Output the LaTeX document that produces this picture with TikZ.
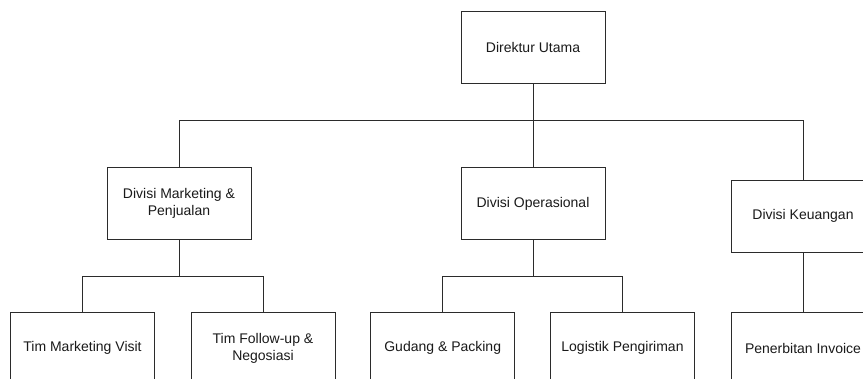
\documentclass[tikz,border=0pt]{standalone}
\usepackage{fontspec}
\setmainfont{Liberation Sans}
\definecolor{linec}{HTML}{2B2B2B}
\definecolor{textc}{HTML}{1A1A1A}
\begin{document}
\begin{tikzpicture}[x=1pt,y=-1pt,
  box/.style={draw=linec, line width=1pt, minimum width=144pt, minimum height=72pt,
    inner sep=2pt, align=center, text=textc, font=\fontsize{14}{17}\selectfont},
  conn/.style={draw=linec, line width=1pt}]
\useasboundingbox (0,0) rectangle (863,378);
\clip (0,0) rectangle (863,378);
\fill[white] (0,0) rectangle (863,378);
\node[box] (dir) at (533,47.5) {Direktur Utama};
\node[box] (mkt) at (179,203.5) {Divisi Marketing \&\\Penjualan};
\node[box] (ops) at (533,203.5) {Divisi Operasional};
\node[box] (keu) at (803,216) {Divisi Keuangan};
\node[box] (tmv) at (82.5,348) {Tim Marketing Visit};
\node[box] (tfu) at (263,348) {Tim Follow-up \&\\Negosiasi};
\node[box] (gdg) at (442.7,348) {Gudang \& Packing};
\node[box] (log) at (622.5,348) {Logistik Pengiriman};
\node[box] (inv) at (803,348) {Penerbitan Invoice};
\coordinate (b0) at (533,120);
\coordinate (b1) at (179,276);
\coordinate (b2) at (533,276);
\draw[conn] (dir.south) -- (b0) -| (mkt.north);
\draw[conn] (b0) -| (ops.north);
\draw[conn] (b0) -| (keu.north);
\draw[conn] (mkt.south) -- (b1) -| (tmv.north);
\draw[conn] (b1) -| (tfu.north);
\draw[conn] (ops.south) -- (b2) -| (gdg.north);
\draw[conn] (b2) -| (log.north);
\draw[conn] (keu.south) -- (inv.north);
\end{tikzpicture}
\end{document}
